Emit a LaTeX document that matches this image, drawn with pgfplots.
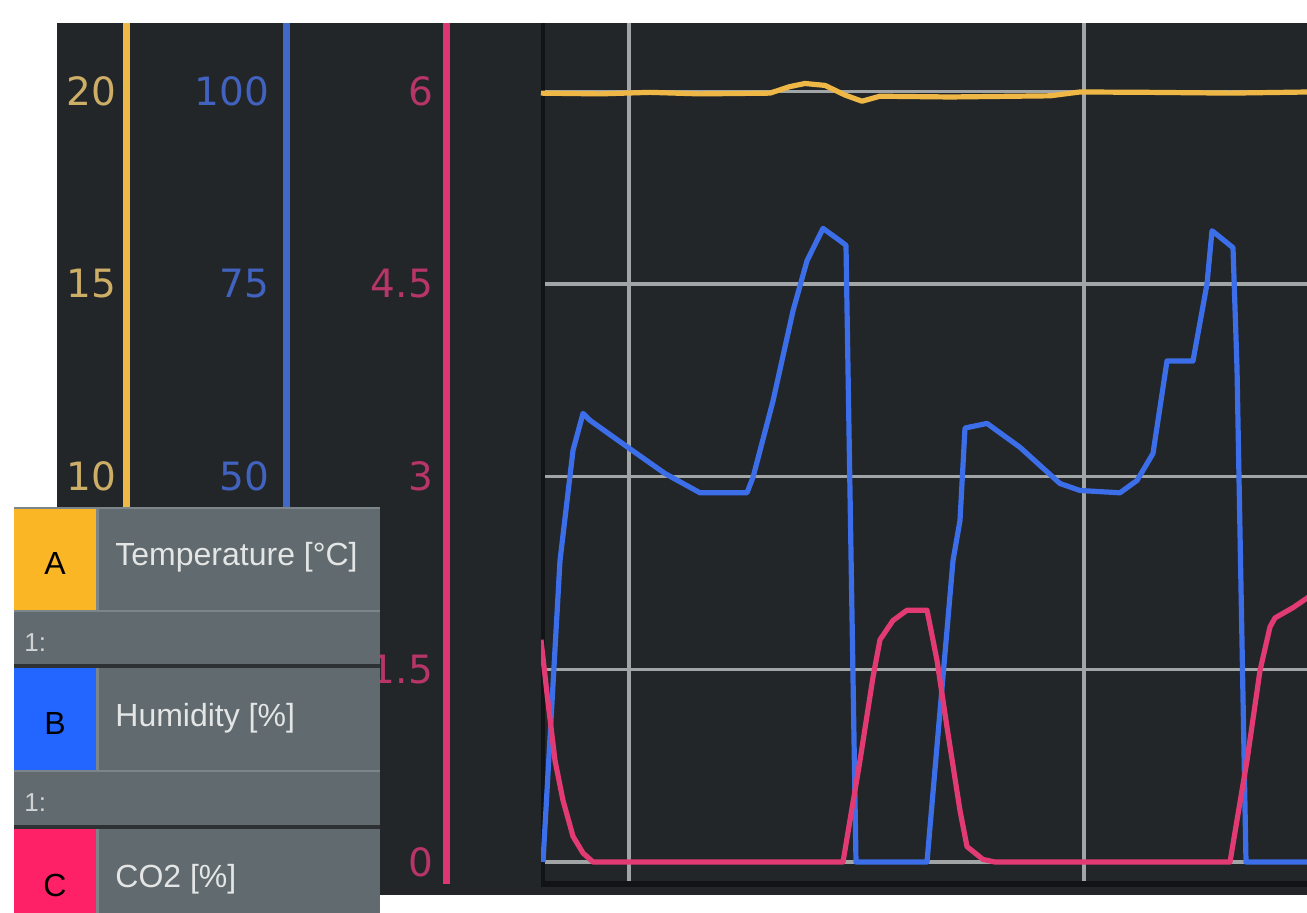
\documentclass[border=0pt]{standalone}
\usepackage{pgfplots}
\pgfplotsset{compat=1.18}
\usepackage{fontspec}
\setmainfont{Liberation Sans}
\newfontfamily\tickfont{DejaVu Sans}
\definecolor{bg}{HTML}{232629}
\definecolor{gridc}{HTML}{A2A5A5}
\definecolor{bord}{HTML}{111315}
\definecolor{tempc}{HTML}{EFB846}
\definecolor{humc}{HTML}{3B6EE8}
\definecolor{co2c}{HTML}{E23A72}
\definecolor{tempax}{HTML}{EDBA48}
\definecolor{humax}{HTML}{4169C8}
\definecolor{co2ax}{HTML}{DE3670}
\definecolor{temptxt}{HTML}{CDAE66}
\definecolor{humtxt}{HTML}{4262C0}
\definecolor{co2txt}{HTML}{B8356A}
\definecolor{legbg}{HTML}{616A6E}
\definecolor{legline}{HTML}{7C8589}
\definecolor{legdark}{HTML}{2D3133}
\definecolor{legtxt}{HTML}{E4E6E6}
\definecolor{sqA}{HTML}{FBB626}
\definecolor{sqB}{HTML}{2266FF}
\definecolor{sqC}{HTML}{FE2168}
\pgfplotsset{
  common/.style={
    scale only axis, width=383pt, height=430.5pt,
    at={(270.5pt,14.5pt)}, anchor=south west,
    xmin=541, xmax=1307,
    major tick length=0pt,
    /pgf/number format/assume math mode=true,
    yticklabel style={font=\tickfont\fontsize{19.5}{21}\selectfont},
  },
}
\begin{document}
\begin{tikzpicture}[x=1pt,y=1pt]
\useasboundingbox (0,0) rectangle (653.5,456.5);
\fill[bg] (28.5,9) rectangle (653.5,445);

% Humidity axis (with grid)
\begin{axis}[common,
  ymin=-2.85, ymax=108.85,
  axis x line*=bottom, axis y line*=left,
  axis y line shift=127pt,
  x axis line style={bord, line width=3pt},
  y axis line style={humax, line width=3.5pt},
  xtick={629,1084}, xticklabels={{},{}},
  ytick={0,25,50,75,100},
  yticklabels={{},{},50,75,100},
  grid=major, major grid style={gridc, line width=1.6pt},
  yticklabel style={text=humtxt, xshift=-5.5pt},
]
\draw[bord, line width=4pt] (rel axis cs:0,0) -- (rel axis cs:0,1);
\addplot[humc, line width=2.6pt, line join=round] coordinates {
(543,0) (560,39.1) (573,53.4) (583,58.2) (590,57.3) (630,53.6) (665,50.4)
(700,47.9) (747,47.9) (753,49.9) (773,59.8) (793,71.5) (807,78.0) (823,82.2)
(840,80.6) (846,80.0) (856,0) (927,0) (953,39.1) (960,44.3) (965,56.3) (987,56.9)
(1020,53.8) (1060,49.1) (1080,48.2) (1120,47.9) (1137,49.5) (1153,53.0)
(1167,65.0) (1193,65.0) (1207,75.0) (1212,81.9) (1233,79.7) (1237,64.1) (1246,0) (1310,0)
};
\end{axis}

% Temperature axis
\begin{axis}[common,
  ymin=-0.57, ymax=21.77,
  hide x axis,
  axis y line*=left,
  axis y line shift=207pt,
  y axis line style={tempax, line width=3.5pt},
  ytick={10,15,20},
  yticklabel style={text=temptxt, xshift=-2pt},
]
\addplot[tempc, line width=2.6pt, line join=round] coordinates {
(541,19.95) (600,19.93) (650,19.97) (700,19.93) (770,19.95) (790,20.12)
(805,20.2) (825,20.15) (845,19.9) (862,19.74) (880,19.87) (950,19.85)
(1050,19.88) (1080,19.98) (1150,19.97) (1230,19.95) (1310,19.98)
};
\end{axis}

% CO2 axis
\begin{axis}[common,
  ymin=-0.171, ymax=6.531,
  hide x axis,
  axis y line*=left,
  axis y line shift=47.5pt,
  y axis line style={co2ax, line width=3.5pt},
  ytick={0,1.5,3,4.5,6},
  yticklabel style={text=co2txt, xshift=-3pt},
]
\addplot[co2c, line width=2.6pt, line join=round] coordinates {
(541,1.73) (547,1.31) (555,0.79) (563,0.48) (573,0.2) (583,0.07) (593,0)
(843,0) (860,0.79) (873,1.44) (880,1.73) (893,1.88) (907,1.96) (927,1.96)
(937,1.57) (947,1.05) (960,0.40) (967,0.12) (983,0.02) (995,0)
(1230,0) (1247,0.79) (1260,1.49) (1270,1.83) (1275,1.90) (1293,1.98) (1310,2.07)
};
\end{axis}

% legend panel
\fill[legbg] (7,0) rectangle (190,203);
\fill[legline] (7,202) rectangle (190,203);
\fill[sqA] (7,151.5) rectangle (48,202);
\fill[sqB] (7,71.5) rectangle (48,122.5);
\fill[sqC] (7,0) rectangle (48,42);
\fill[legline] (48,151.5) rectangle (49.5,202);
\fill[legline] (48,71.5) rectangle (49.5,122.5);
\fill[legline] (48,0) rectangle (49.5,42);
\fill[legline] (7,150.3) rectangle (190,151.5);
\fill[legdark] (7,122.5) rectangle (190,124.5);
\fill[legline] (7,70.3) rectangle (190,71.5);
\fill[legdark] (7,42) rectangle (190,44);
\node[anchor=base west, inner sep=0, text=legtxt, font=\fontsize{16}{18}\selectfont] at (57.5,173.5) {Temperature [°C]};
\node[anchor=base west, inner sep=0, text=legtxt, font=\fontsize{16}{18}\selectfont] at (57.5,93) {Humidity [\%]};
\node[anchor=base west, inner sep=0, text=legtxt, font=\fontsize{16}{18}\selectfont] at (57.5,12.5) {CO2 [\%]};
\node[anchor=base, inner sep=0, text=black, font=\fontsize{16}{18}\selectfont] at (27.5,169) {A};
\node[anchor=base, inner sep=0, text=black, font=\fontsize{16}{18}\selectfont] at (27.5,89) {B};
\node[anchor=base, inner sep=0, text=black, font=\fontsize{16}{18}\selectfont] at (27.5,8) {C};
\node[anchor=base west, inner sep=0, text=legtxt!85!legbg, font=\fontsize{13}{15}\selectfont] at (12,130.5) {1:};
\node[anchor=base west, inner sep=0, text=legtxt!85!legbg, font=\fontsize{13}{15}\selectfont] at (12,50.5) {1:};
\end{tikzpicture}
\end{document}
